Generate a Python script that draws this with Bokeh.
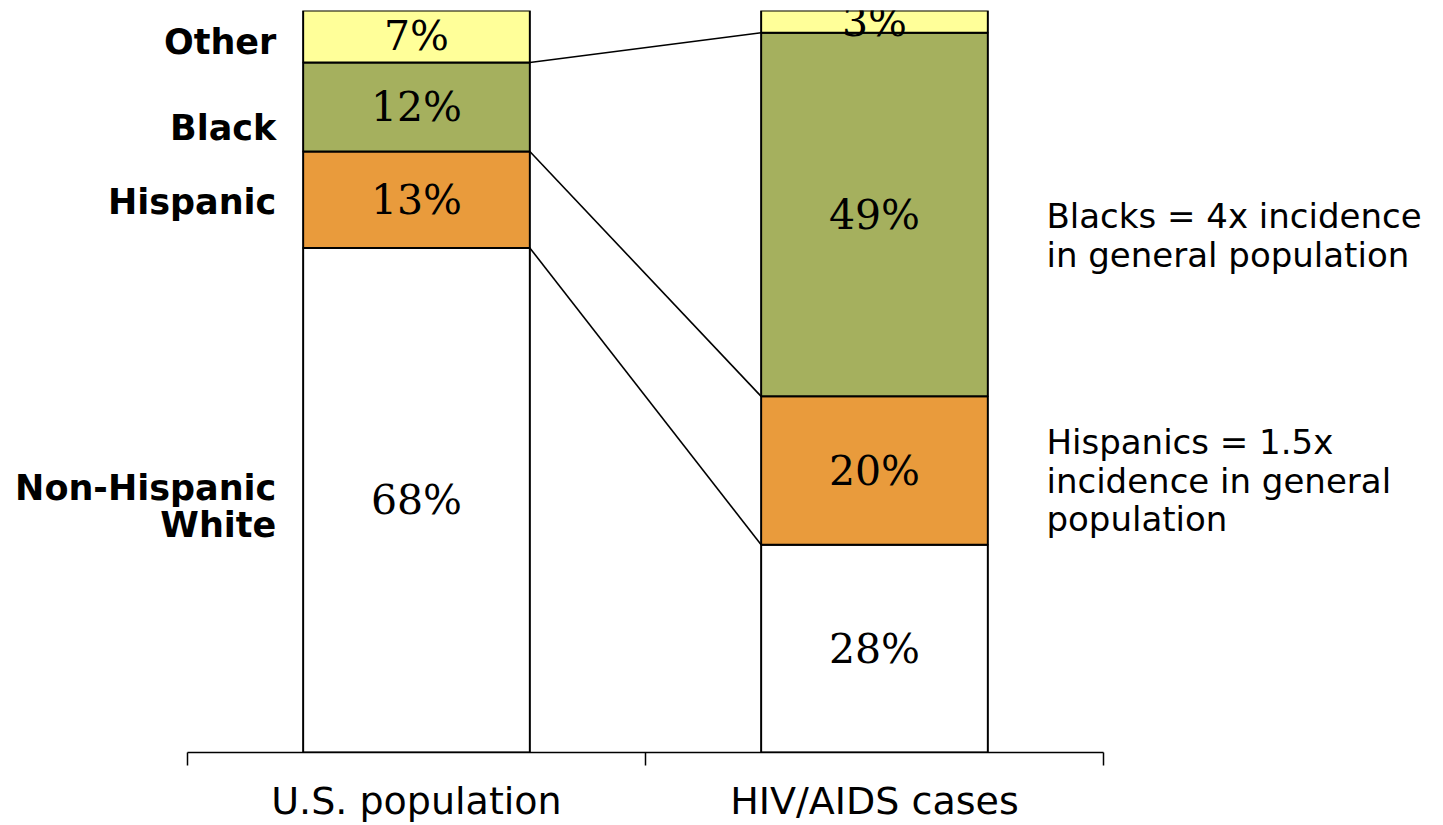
import numpy as np
from bokeh.plotting import figure
from bokeh.models import ColumnDataSource, LinearAxis, FixedTicker, Range1d
from bokeh.core.properties import value
from bokeh.embed import file_html
from bokeh.resources import INLINE

# ---- data ----
groups = ["U.S. population", "HIV/AIDS cases"]
races = ["Non-Hispanic White", "Hispanic", "Black", "Other"]          # bottom -> top
race_labels = ["Non-Hispanic\nWhite", "Hispanic", "Black", "Other"]
us_population = [68, 13, 12, 7]
hiv_aids_cases = [28, 20, 49, 3]
colors = ["#FFFFFF", "#E99B3C", "#A5B05E", "#FFFF99"]
notes = ["Blacks = 4x incidence\nin general population",
         "Hispanics = 1.5x\nincidence in general\npopulation"]
note_races = ["Black", "Hispanic"]

x_centers = [0.5, 1.5]
bar_w = 0.495

p = figure(width=1443, height=825,
           x_range=Range1d(-0.4083, 2.7424), y_range=Range1d(0, 100),
           output_backend="svg", toolbar_location=None,
           x_axis_location=None, y_axis_location=None,
           min_border_left=0, min_border_right=0,
           min_border_top=10, min_border_bottom=73)
p.grid.visible = False
p.outline_line_color = None
p.background_fill_color = "white"
p.border_fill_color = "white"

series = [us_population, hiv_aids_cases]
tops_all = []
for xc, vals in zip(x_centers, series):
    vals = np.array(vals, dtype=float)
    tops = np.cumsum(vals)
    bottoms = tops - vals
    tops_all.append(tops)
    src = ColumnDataSource(dict(
        x=[xc] * len(vals), bottom=bottoms, top=tops, color=colors,
        mid=(tops + bottoms) / 2, label=[f"{int(v)}%" for v in vals]))
    p.vbar(x="x", width=bar_w, bottom="bottom", top="top",
           fill_color="color", line_color="black", line_width=2, source=src)
    p.text(x="x", y="mid", text="label", text_align="center",
           text_baseline="middle", text_font=value("DejaVu Serif"),
           text_font_size="41px", text_color="black", source=src)

# connector lines between segment boundaries
left_b = tops_all[0][:-1]
right_b = tops_all[1][:-1]
p.segment(x0=[x_centers[0] + bar_w / 2] * len(left_b), y0=left_b,
          x1=[x_centers[1] - bar_w / 2] * len(right_b), y1=right_b,
          line_color="black", line_width=1.6)

# race labels at left
us = np.array(us_population, dtype=float)
us_mid = np.cumsum(us) - us / 2
lab_src = ColumnDataSource(dict(x=[0.194] * 4, y=us_mid, text=race_labels,
                                yo=[6, 2, 21, 6]))
p.text(x="x", y="y", text="text", y_offset="yo", text_align="right",
       text_baseline="middle", text_font=value("DejaVu Sans"),
       text_font_style="bold", text_font_size="35px", text_color="black",
       text_line_height=0.92, source=lab_src)

# notes at right
hv = np.array(hiv_aids_cases, dtype=float)
hv_mid = np.cumsum(hv) - hv / 2
note_y = [hv_mid[races.index(r)] for r in note_races]
note_src = ColumnDataSource(dict(x=[1.8755] * 2, y=note_y, text=notes, yo=[21, 10]))
p.text(x="x", y="y", text="text", y_offset="yo", text_align="left",
       text_baseline="middle", text_font=value("DejaVu Sans"),
       text_font_size="34px", text_color="black", text_line_height=0.97,
       source=note_src)

# x axis: labels at group centres, ticks at boundaries
ax = LinearAxis(ticker=FixedTicker(ticks=x_centers, minor_ticks=[0, 1, 2]),
                bounds=(0, 2))
ax.major_label_overrides = {x_centers[0]: groups[0], x_centers[1]: groups[1]}
ax.major_tick_out = 0
ax.major_tick_in = 0
ax.minor_tick_out = 13
ax.minor_tick_in = 0
ax.minor_tick_line_color = "black"
ax.minor_tick_line_width = 1.5
ax.axis_line_color = "black"
ax.axis_line_width = 1.5
ax.major_label_text_font = "DejaVu Sans"
ax.major_label_text_font_size = "38px"
ax.major_label_text_color = "black"
ax.major_label_standoff = 13
p.add_layout(ax, "below")

open("out.html", "w").write(file_html(p, INLINE))
